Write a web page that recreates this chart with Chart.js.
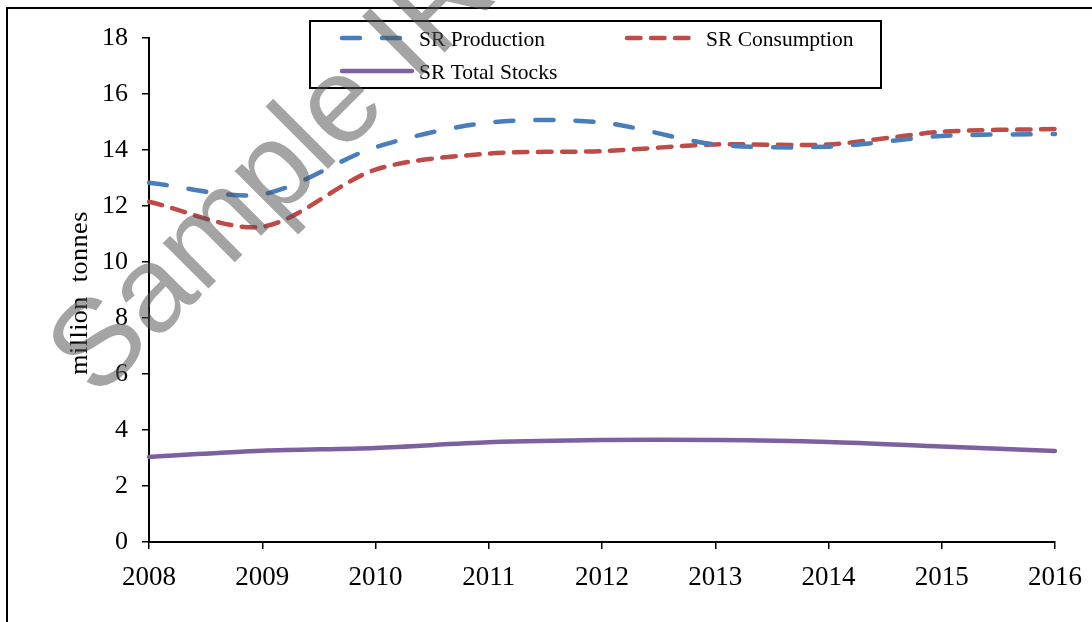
<!DOCTYPE html>
<html>
<head>
<meta charset="utf-8">
<script src="https://cdn.jsdelivr.net/npm/chart.js@4.4.1/dist/chart.umd.min.js"></script>
<style>
  html, body { margin: 0; padding: 0; background: #fff; }
  #wrap { width: 1092px; height: 622px; position: relative; }
</style>
</head>
<body>
<div id="wrap"><canvas id="c" width="1092" height="622"></canvas></div>
<script>
const years = ['2008', '2009', '2010', '2011', '2012', '2013', '2014', '2015', '2016'];
const production  = [12.83, 12.42, 14.1, 14.98, 14.98, 14.2, 14.12, 14.5, 14.57];
const consumption = [12.15, 11.26, 13.3, 13.87, 13.96, 14.2, 14.2, 14.65, 14.75];
const totalStocks = [3.04, 3.26, 3.36, 3.56, 3.64, 3.64, 3.57, 3.41, 3.25];
const seriesLabels = ['SR Production', 'SR Consumption', 'SR Total Stocks'];
const yTicks = [0, 2, 4, 6, 8, 10, 12, 14, 16, 18];
const yTitle = 'million  tonnes';
const watermark = 'Sample IR';

const SERIF = '"Liberation Serif", "Times New Roman", serif';

const decor = {
  id: 'decor',
  beforeDraw(chart) {
    const ctx = chart.ctx;
    ctx.save();
    ctx.fillStyle = '#fff';
    ctx.fillRect(0, 0, chart.width, chart.height);
    ctx.strokeStyle = '#000';
    ctx.lineWidth = 2;
    ctx.strokeRect(7, 8, 1200, 800);
    ctx.restore();
  },
  afterDraw(chart) {
    const ctx = chart.ctx;
    ctx.save();
    // y axis title
    ctx.fillStyle = '#000';
    ctx.font = '26px ' + SERIF;
    try { ctx.letterSpacing = '0.5px'; } catch (e) {}
    ctx.textAlign = 'center';
    ctx.textBaseline = 'middle';
    ctx.translate(80, 293);
    ctx.rotate(-Math.PI / 2);
    ctx.fillText(yTitle, 0, 0);
    ctx.restore();

    // legend
    ctx.save();
    ctx.strokeStyle = '#000';
    ctx.lineWidth = 2;
    ctx.strokeRect(310, 21, 571, 67);
    const items = [
      {ds: 0, x1: 342, x2: 407, y: 38, tx: 419},
      {ds: 1, x1: 627, x2: 690, y: 38, tx: 706},
      {ds: 2, x1: 342, x2: 412, y: 71, tx: 419}
    ];
    items.forEach(it => {
      const d = chart.data.datasets[it.ds];
      ctx.save();
      ctx.strokeStyle = d.borderColor;
      ctx.lineWidth = d.borderWidth;
      ctx.lineCap = 'round';
      ctx.setLineDash(d.borderDash || []);
      ctx.beginPath();
      ctx.moveTo(it.x1, it.y);
      ctx.lineTo(it.x2, it.y);
      ctx.stroke();
      ctx.restore();
      ctx.fillStyle = '#000';
      ctx.font = '21.5px ' + SERIF;
      ctx.textAlign = 'left';
      ctx.textBaseline = 'alphabetic';
      ctx.fillText(d.label, it.tx, it.y + 8);
    });
    ctx.restore();

    // watermark
    ctx.save();
    ctx.translate(97, 400);
    ctx.rotate(-Math.PI / 4);
    ctx.font = '122px "Liberation Sans", Arial, sans-serif';
    ctx.fillStyle = 'rgba(80,80,80,0.52)';
    ctx.textAlign = 'left';
    ctx.textBaseline = 'alphabetic';
    ctx.fillText(watermark, 0, 0);
    ctx.restore();
  }
};

new Chart(document.getElementById('c'), {
  type: 'line',
  data: {
    labels: years,
    datasets: [
      {
        label: seriesLabels[0], data: production,
        borderColor: '#4A7EBB', borderWidth: 4.5, borderDash: [18, 22],
        borderCapStyle: 'round', tension: 0.3, pointRadius: 0, fill: false
      },
      {
        label: seriesLabels[1], data: consumption,
        borderColor: '#BE4B48', borderWidth: 4.5, borderDash: [13.5, 10.5],
        borderCapStyle: 'round', tension: 0.3, pointRadius: 0, fill: false
      },
      {
        label: seriesLabels[2], data: totalStocks,
        borderColor: '#7D60A0', borderWidth: 4.5,
        borderCapStyle: 'round', tension: 0.3, pointRadius: 0, fill: false
      }
    ]
  },
  options: {
    responsive: false,
    animation: false,
    devicePixelRatio: 1,
    layout: { padding: { left: 0, top: 38, right: 37, bottom: 0 } },
    plugins: { legend: { display: false }, tooltip: { enabled: false } },
    scales: {
      x: {
        type: 'category',
        offset: false,
        afterFit(s) { s.height = 80; s.paddingLeft = 0; s.paddingRight = 0; },
        grid: { drawOnChartArea: false, drawTicks: true, tickLength: 7, color: '#000', lineWidth: 1.5 },
        border: { display: true, color: '#000', width: 2 },
        ticks: { color: '#000', font: { family: SERIF, size: 27 }, padding: 13, maxRotation: 0, autoSkip: false }
      },
      y: {
        min: 0, max: 18,
        afterFit(s) { s.width = 149; s.paddingTop = 0; s.paddingBottom = 0; },
        afterBuildTicks(s) { s.ticks = yTicks.map(v => ({ value: v })); },
        grid: { drawOnChartArea: false, drawTicks: true, tickLength: 7, color: '#000', lineWidth: 1.5 },
        border: { display: true, color: '#000', width: 2 },
        ticks: { color: '#000', font: { family: SERIF, size: 26 }, padding: 14 }
      }
    }
  },
  plugins: [decor]
});
</script>
</body>
</html>
